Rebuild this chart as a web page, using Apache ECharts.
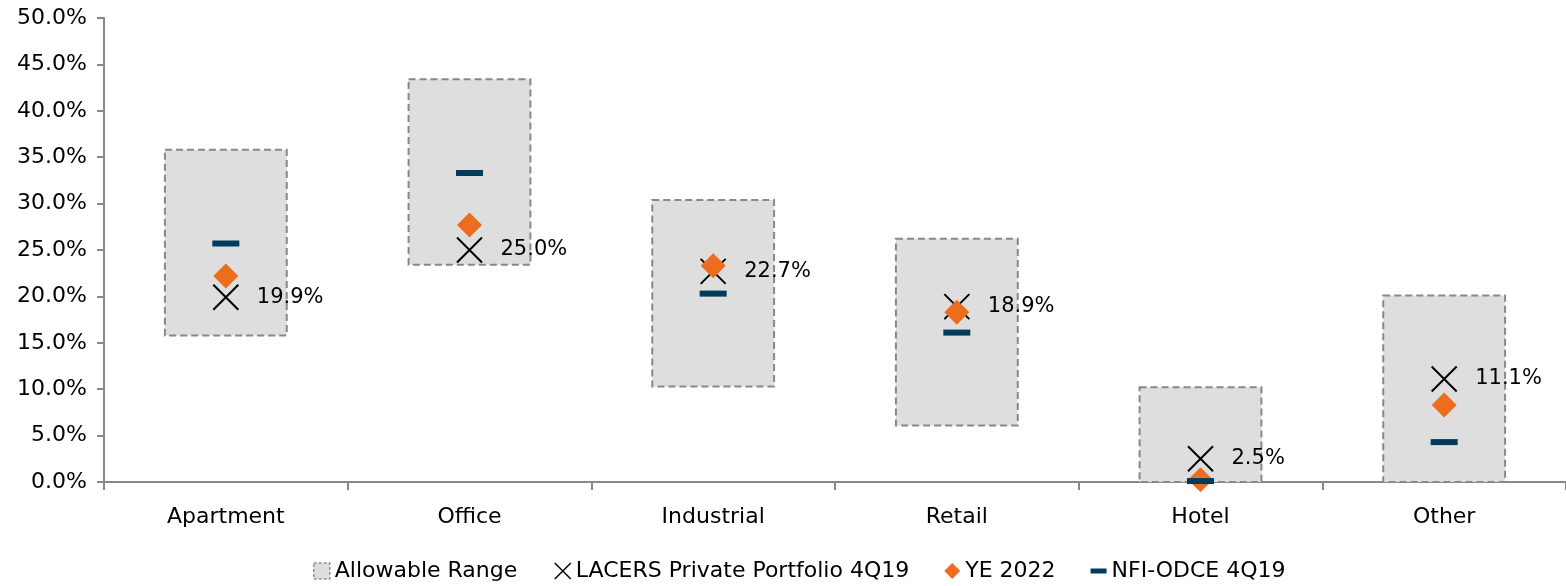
<!DOCTYPE html>
<html>
<head>
<meta charset="utf-8">
<script src="https://cdn.jsdelivr.net/npm/echarts@6/dist/echarts.min.js"></script>
<style>
  html, body { margin: 0; padding: 0; background: #fff; }
  #chart { width: 1566px; height: 586px; }
</style>
</head>
<body>
<div id="chart"></div>
<script>
// Property-type allocation (% of portfolio)
const categories = ['Apartment', 'Office', 'Industrial', 'Retail', 'Hotel', 'Other'];
const rangeLow   = [15.8, 23.4, 10.3, 6.1, 0.0, 0.0];
const rangeHigh  = [35.8, 43.4, 30.4, 26.2, 10.2, 20.1];
const lacers     = [19.9, 25.0, 22.7, 18.9, 2.5, 11.1];
const ye2022     = [22.2, 27.7, 23.3, 18.3, 0.25, 8.3];
const nfiOdce    = [25.7, 33.3, 20.3, 16.1, 0.1, 4.3];

const FONT = 'DejaVu Sans';
const X_PATH = 'path://M0,0L10,10M10,0L0,10';

const rangeData = categories.map((c, i) => [i, rangeLow[i], rangeHigh[i]]);

const chart = echarts.init(document.getElementById('chart'));
chart.setOption({
  animation: false,
  backgroundColor: '#fff',
  textStyle: { fontFamily: FONT },
  grid: { left: 104, top: 18, width: 1467, bottom: 104, containLabel: false },
  legend: {
    left: 308,
    top: 555,
    itemWidth: 16,
    itemHeight: 16,
    itemGap: 35,
    textStyle: { fontFamily: FONT, fontSize: 22, color: '#000' },
    data: [
      { name: 'Allowable Range', icon: 'rect',
        itemStyle: { color: '#DEDEDE', borderColor: '#909090', borderWidth: 1.5, borderType: [3, 2] } },
      { name: 'LACERS Private Portfolio 4Q19', icon: X_PATH,
        itemStyle: { color: 'none', borderColor: '#000', borderWidth: 1.5 } },
      { name: 'YE 2022', icon: 'diamond', itemStyle: { color: '#ED6D1F' } },
      { name: 'NFI-ODCE 4Q19', icon: 'path://M0,0h16v5h-16z', itemStyle: { color: '#003B5C' } }
    ]
  },
  xAxis: {
    type: 'category',
    data: categories,
    boundaryGap: true,
    axisLine: { lineStyle: { color: '#888', width: 2 } },
    axisTick: { show: true, length: 8, lineStyle: { color: '#888', width: 2 } },
    axisLabel: { fontFamily: FONT, fontSize: 22, color: '#000', margin: 24 }
  },
  yAxis: {
    type: 'value',
    min: 0,
    max: 50,
    interval: 5,
    splitLine: { show: false },
    axisLine: { show: true, lineStyle: { color: '#888', width: 2 } },
    axisTick: { show: true, length: 7, lineStyle: { color: '#888', width: 2 } },
    axisLabel: {
      fontFamily: FONT, fontSize: 22, color: '#000', margin: 17,
      formatter: v => v.toFixed(1) + '%'
    }
  },
  series: [
    {
      name: 'Allowable Range',
      type: 'custom',
      data: rangeData,
      encode: { x: 0, y: [1, 2] },
      renderItem(params, api) {
        const i = api.value(0);
        const top = api.coord([i, api.value(2)]);
        const bottom = api.coord([i, api.value(1)]);
        const w = api.size([1, 0])[0] * 0.5;
        return {
          type: 'rect',
          shape: { x: top[0] - w / 2, y: top[1], width: w, height: bottom[1] - top[1] },
          style: { fill: '#DEDEDE', stroke: '#888', lineWidth: 2, lineDash: [7, 4] }
        };
      },
      z: 1
    },
    {
      name: 'LACERS Private Portfolio 4Q19',
      type: 'scatter',
      data: lacers,
      symbol: X_PATH,
      symbolSize: 25,
      clip: false,
      itemStyle: { color: 'none', borderColor: '#000', borderWidth: 2, opacity: 1 },
      label: {
        show: true,
        position: 'right',
        distance: 16,
        fontFamily: FONT,
        fontSize: 21,
        color: '#000',
        formatter: p => p.value.toFixed(1) + '%'
      },
      z: 3
    },
    {
      name: 'YE 2022',
      type: 'scatter',
      data: ye2022,
      symbol: 'diamond',
      symbolSize: 25,
      clip: false,
      itemStyle: { color: '#ED6D1F', opacity: 1 },
      z: 4
    },
    {
      name: 'NFI-ODCE 4Q19',
      type: 'scatter',
      data: nfiOdce,
      symbol: 'rect',
      symbolSize: [27, 6],
      clip: false,
      itemStyle: { color: '#003B5C', opacity: 1 },
      z: 5
    }
  ]
});
</script>
</body>
</html>
